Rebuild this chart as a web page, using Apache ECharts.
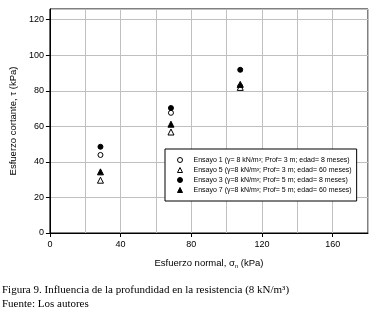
<!DOCTYPE html>
<html>
<head>
<meta charset="utf-8">
<script src="https://cdn.jsdelivr.net/npm/echarts@6/dist/echarts.min.js"></script>
<style>
  html, body { margin: 0; padding: 0; background: #fff; }
  #main { width: 379px; height: 316px; }
</style>
</head>
<body>
<div id="main"></div>
<script>
// esfuerzo normal de cada grupo de ensayos (kPa)
var normales = [28.6, 68.5, 107.7];
// esfuerzo cortante (kPa) por ensayo
var ensayo1 = [43.9, 67.6, 82.5];
var ensayo5 = [29.7, 56.8, 81.9];
var ensayo3 = [48.5, 70.3, 91.8];
var ensayo7 = [34.4, 61.2, 83.6];
var nombres = [
  'Ensayo 1 (γ= 8 kN/m³; Prof= 3 m; edad= 8 meses)',
  'Ensayo 5 (γ=8 kN/m³; Prof= 3 m; edad= 60 meses)',
  'Ensayo 3 (γ=8 kN/m³; Prof= 5 m; edad= 8 meses)',
  'Ensayo 7 (γ=8 kN/m³; Prof= 5 m; edad= 60 meses)'
];
var xTicks = [0, 40, 80, 120, 160];
var yTicks = [0, 20, 40, 60, 80, 100, 120];

function puntos(vals) {
  var out = [];
  for (var i = 0; i < vals.length; i++) out.push([normales[i], vals[i]]);
  return out;
}

var font = 'Liberation Sans, Arial, sans-serif';
var estilos = [
  {data: ensayo1, symbol: 'circle', size: 5, fill: '#fff'},
  {data: ensayo5, symbol: 'triangle', size: 6, fill: '#fff'},
  {data: ensayo3, symbol: 'circle', size: 5, fill: '#000'},
  {data: ensayo7, symbol: 'triangle', size: 6, fill: '#000'}
];
var series = [];
for (var i = 0; i < estilos.length; i++) {
  series.push({
    name: nombres[i],
    type: 'scatter',
    symbol: estilos[i].symbol,
    symbolSize: estilos[i].size,
    itemStyle: {color: estilos[i].fill, borderColor: '#000', borderWidth: 1, opacity: 1},
    data: puntos(estilos[i].data)
  });
}

var option = {
  animation: false,
  backgroundColor: '#fff',
  title: {
    text: 'Figura 9. Influencia de la profundidad en la resistencia (8 kN/m³)\nFuente: Los autores',
    left: 2, top: 283, padding: 0,
    textStyle: {fontFamily: 'Liberation Serif, Times New Roman, serif', fontSize: 11, fontWeight: 'normal', color: '#000', lineHeight: 14}
  },
  grid: {left: 48, right: 11, top: 9, bottom: 83, show: true, borderColor: '#000', borderWidth: 1},
  legend: {
    orient: 'vertical', left: 165, top: 149,
    backgroundColor: '#fff', borderColor: '#000', borderWidth: 1,
    padding: [7, 5, 7, 12],
    itemWidth: 5, itemHeight: 5, itemGap: 2,
    itemStyle: {borderWidth: 1},
    textStyle: {fontFamily: font, fontSize: 7, color: '#000', lineHeight: 8, padding: [0, 0, 0, 6]},
    data: nombres
  },
  xAxis: [{
    type: 'value', min: 0, max: 180,
    name: 'Esfuerzo normal, σ{s|n} (kPa)',
    nameLocation: 'middle', nameGap: 25,
    nameTextStyle: {fontFamily: font, fontSize: 9.5, color: '#000',
      rich: {s: {fontFamily: font, fontSize: 6, color: '#000', padding: [5, 0, 0, 0]}}},
    axisLine: {lineStyle: {color: '#000', width: 1}},
    axisTick: {show: true, length: 4, lineStyle: {color: '#000'}, customValues: xTicks},
    axisLabel: {fontFamily: font, fontSize: 9, color: '#000', margin: 7, customValues: xTicks},
    splitLine: {show: false}
  }, {
    type: 'value', min: 0, max: 180, interval: 20, position: 'bottom',
    axisLine: {show: false}, axisTick: {show: false}, axisLabel: {show: false},
    splitLine: {show: true, lineStyle: {color: '#c0c0c0', width: 1}}
  }],
  yAxis: [{
    type: 'value', min: 0, max: 126,
    name: 'Esfuerzo cortante, τ (kPa)',
    nameLocation: 'middle', nameGap: 25,
    nameTextStyle: {fontFamily: font, fontSize: 9.5, color: '#000'},
    axisLine: {show: true, lineStyle: {color: '#000', width: 1}},
    axisTick: {show: true, length: 4, lineStyle: {color: '#000'}, customValues: yTicks},
    axisLabel: {fontFamily: font, fontSize: 9, color: '#000', margin: 6, customValues: yTicks},
    splitLine: {show: false}
  }, {
    type: 'value', min: 0, max: 126, interval: 20, position: 'left',
    axisLine: {show: false}, axisTick: {show: false}, axisLabel: {show: false},
    splitLine: {show: true, lineStyle: {color: '#c0c0c0', width: 1}}
  }],
  series: series
};

echarts.init(document.getElementById('main'), null, {renderer: 'canvas'}).setOption(option);
</script>
</body>
</html>
